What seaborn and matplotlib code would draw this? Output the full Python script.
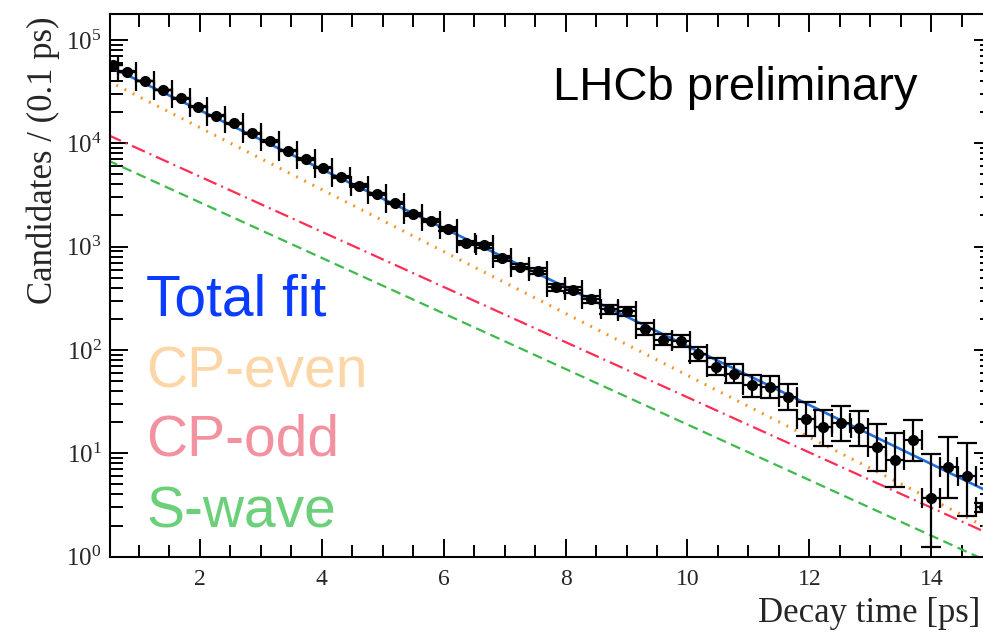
import numpy as np
import pandas as pd
import matplotlib
matplotlib.use("Agg")
import matplotlib.pyplot as plt
import seaborn as sns
from matplotlib.ticker import MultipleLocator, LogLocator, NullFormatter

# ---------------- data ----------------
t_centers = [0.58, 0.81, 1.10, 1.40, 1.69, 1.98, 2.27, 2.57, 2.86, 3.15,
             3.45, 3.74, 4.03, 4.32, 4.62, 4.91, 5.20, 5.50, 5.79, 6.08,
             6.37, 6.67, 6.96, 7.25, 7.55, 7.84, 8.13, 8.42, 8.72, 9.01,
             9.30, 9.60, 9.89, 10.18, 10.47, 10.77, 11.06, 11.35, 11.65, 11.94,
             12.23, 12.52, 12.82, 13.11, 13.40, 13.70, 13.99, 14.28, 14.58, 14.86]
t_halfwidth = [0.08] + [0.146] * 48 + [0.135]
candidates = [57300, 49100, 40100, 32800, 27300, 22600, 18500, 15600, 12500, 10500,
              8500, 7060, 5820, 4760, 3900, 3220, 2640, 2060, 1780, 1490,
              1080, 1030, 774, 642, 583, 403, 382, 310, 249, 236,
              160, 126, 123, 91, 69, 58.4, 45.4, 43.4, 35.0, 21.3,
              17.8, 19.6, 17.6, 11.4, 8.7, 13.6, 3.7, 7.4, 6.0, 3.0]
err_low = [380, 350, 320, 290, 260, 240, 215, 200, 180, 165,
           150, 135, 120, 110, 100, 90, 80, 70, 65, 60,
           50, 50, 42, 38, 36, 30, 29, 26, 24, 23,
           20, 15, 16, 13, 12, 11, 10, 9, 8.6, 6.7,
           5.9, 6.4, 5.9, 4.7, 4.0, 5.1, 2.45, 3.7, 3.5, 0.3]
err_high = [380, 350, 320, 290, 260, 240, 215, 200, 180, 165,
            150, 135, 120, 110, 100, 90, 80, 70, 65, 60,
            50, 50, 42, 38, 36, 30, 29, 26, 24, 23,
            22, 16, 18, 16, 15, 14, 12, 12, 11.5, 9.8,
            8.2, 8.9, 8.2, 7.8, 7.0, 7.5, 6.2, 6.9, 6.6, 0.3]

fit_t = [0.5, 15.0]
total_fit = [5.6e4, 4.08]
cp_even = [4.0e4, 1.8]
cp_odd = [1.2e4, 1.61]
s_wave = [6.8e3, 0.86]

legend_labels = ["Total fit", "CP-even", "CP-odd", "S-wave"]
legend_colors = ["#0a3cff", "#fcd6a6", "#f2919f", "#6ccf7a"]

# ---------------- style ----------------
sns.set_theme(style="ticks")
plt.rcParams["font.family"] = ["Liberation Serif", "DejaVu Serif"]
plt.rcParams["mathtext.fontset"] = "stix"

fig = plt.figure(figsize=(9.83, 6.43), dpi=100)
ax = fig.add_axes([110 / 983, (643 - 556.7) / 643, (992.4 - 110) / 983, (556.7 - 14) / 643])
ax.set_yscale("log")

# fit components
line_df = pd.DataFrame({"t": fit_t * 4,
                        "value": total_fit + cp_even + cp_odd + s_wave,
                        "comp": ["total"] * 2 + ["even"] * 2 + ["odd"] * 2 + ["swave"] * 2})
styles = {
    "swave": dict(color="#3dbb4a", lw=1.6, linestyle=(0, (4.5, 2.5))),
    "odd": dict(color="#ff2d55", lw=1.6, linestyle=(0, (6.3, 2.3, 0.9, 2.3))),
    "even": dict(color="#f7901e", lw=2.2, linestyle=(0, (0.6, 2.4))),
    "total": dict(color="#1e6fe0", lw=1.9, linestyle="-"),
}
for comp, st in styles.items():
    sub = line_df[line_df["comp"] == comp]
    sns.lineplot(data=sub, x="t", y="value", ax=ax, color=st["color"], lw=st["lw"],
                 linestyle=st["linestyle"], zorder=2)

# data points
ax.errorbar(t_centers, candidates, xerr=t_halfwidth, yerr=[err_low, err_high],
            fmt="o", color="black", ms=7, elinewidth=1.6, capsize=7, capthick=1.6,
            zorder=5)

ax.set_xlim(0.53, 15.0)
ax.set_ylim(1, 1.78e5)

ax.xaxis.set_major_locator(MultipleLocator(2))
ax.xaxis.set_minor_locator(MultipleLocator(0.5))
ax.yaxis.set_major_locator(LogLocator(base=10, numticks=10))
ax.yaxis.set_minor_locator(LogLocator(base=10, subs=np.arange(2, 10), numticks=20))
ax.yaxis.set_minor_formatter(NullFormatter())

ax.tick_params(which="both", direction="in", top=True, right=True, color="black",
               width=1.4)
ax.tick_params(which="major", length=13)
ax.tick_params(which="minor", length=9)
ax.tick_params(axis="x", which="major", labelsize=17, pad=9)
ax.tick_params(axis="y", which="major", labelsize=18, pad=6)
for sp in ax.spines.values():
    sp.set_linewidth(1.5)
    sp.set_color("black")

ax.set_ylabel("Candidates / (0.1 ps)", fontsize=25)
ax.yaxis.set_label_coords(-0.057, 0.731)
ax.set_xlabel("Decay time [ps]", fontsize=25, ha="right")
ax.xaxis.set_label_coords(0.986, -0.074)

# LHCb label
ax.text((553 - 110) / 882.4, (556.7 - 100) / 542.7, "LHCb preliminary",
        transform=ax.transAxes, fontsize=34, family=["Liberation Sans", "DejaVu Sans"],
        color="black", ha="left", va="baseline")

# coloured legend texts
baselines = [315, 387, 456, 527]
for lab, col, yb in zip(legend_labels, legend_colors, baselines):
    ax.text((146 - 110) / 882.4, (556.7 - yb) / 542.7, lab, transform=ax.transAxes,
            fontsize=41, family=["Liberation Sans", "DejaVu Sans"], color=col,
            ha="left", va="baseline")

fig.savefig("out.png", dpi=100)
